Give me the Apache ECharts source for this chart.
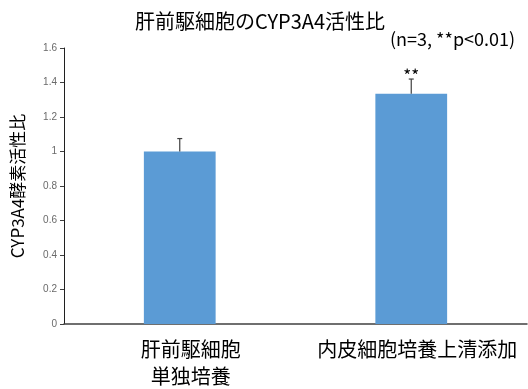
<!DOCTYPE html>
<html><head><meta charset="utf-8">
<script src="https://cdn.jsdelivr.net/npm/echarts@6/dist/echarts.min.js"></script>
<style>html,body{margin:0;padding:0;background:#fff}#c{width:528px;height:389px}</style>
</head><body><div id="c"></div>
<script>
var categories = ['肝前駆細胞\n単独培養', '内皮細胞培養上清添加'];
var values = [1.0, 1.335];
var errors = [0.075, 0.085];
var marks = ['', '**'];
var yTicks = [0, 0.2, 0.4, 0.6, 0.8, 1, 1.2, 1.4, 1.6];

var font = '"Noto Sans CJK JP", "Noto Sans", sans-serif';
var labelShift = [22, 12];
var chart = echarts.init(document.getElementById('c'));
var errData = values.map(function (v, i) { return [i, v, errors[i], marks[i]]; });
chart.setOption({
  animation: false,
  title: [
    { text: '肝前駆細胞のCYP3A4活性比', left: 255, top: 6, textAlign: 'center',
      textStyle: { fontFamily: font, fontSize: 20, fontWeight: 'normal', color: '#000' } },
    { text: '(n=3, **p<0.01)', left: 385, top: 25,
      textStyle: { fontFamily: font, fontSize: 18, fontWeight: 'normal', color: '#000' } }
  ],
  grid: { left: 64, right: 1, top: 48, bottom: 65, containLabel: false, outerBoundsMode: 'none' },
  xAxis: {
    type: 'category',
    data: categories.map(function (c, i) {
      return { value: c, textStyle: { padding: [0, 0, 0, labelShift[i]] } };
    }),
    axisLine: { lineStyle: { color: '#404040', width: 1.5 } },
    axisTick: { show: false },
    axisLabel: { interval: 0, fontFamily: font, fontSize: 20, color: '#000', margin: 12, lineHeight: 27 }
  },
  yAxis: {
    type: 'value', min: 0, max: 1.6, interval: 0.2,
    name: 'CYP3A4酵素活性比', nameLocation: 'middle', nameGap: 38, nameRotate: 90,
    nameTextStyle: { fontFamily: font, fontSize: 17, color: '#000' },
    splitLine: { show: false },
    axisLine: { show: true, lineStyle: { color: '#202020', width: 1 } },
    axisTick: { show: true, length: 4, inside: false, lineStyle: { color: '#404040' } },
    axisLabel: { fontFamily: '"Liberation Sans", sans-serif', fontSize: 10, color: '#6a6a6a', margin: 7,
      formatter: function (v) { return String(Math.round(v * 10) / 10); } }
  },
  series: [
    { type: 'bar', data: values, barWidth: '31%',
      itemStyle: { color: '#5b9bd5' } },
    { type: 'custom', data: errData, z: 10,
      renderItem: function (params, api) {
        var x = api.value(0), v = api.value(1), e = api.value(2);
        var p0 = api.coord([x, v]);
        var p1 = api.coord([x, v + e]);
        var label = marks[params.dataIndex];
        var children = [
          { type: 'line', shape: { x1: p0[0], y1: p0[1], x2: p1[0], y2: p1[1] },
            style: { stroke: '#404040', lineWidth: 1.2 } },
          { type: 'line', shape: { x1: p1[0] - 2.5, y1: p1[1], x2: p1[0] + 2.5, y2: p1[1] },
            style: { stroke: '#404040', lineWidth: 1.2 } }
        ];
        if (label) {
          children.push({ type: 'text', x: p1[0], y: p1[1] + 5,
            style: { text: label, fontFamily: font, fontSize: 17, fill: '#000',
              textAlign: 'center', textVerticalAlign: 'bottom' } });
        }
        return { type: 'group', children: children };
      }
    }
  ]
});
</script></body></html>
